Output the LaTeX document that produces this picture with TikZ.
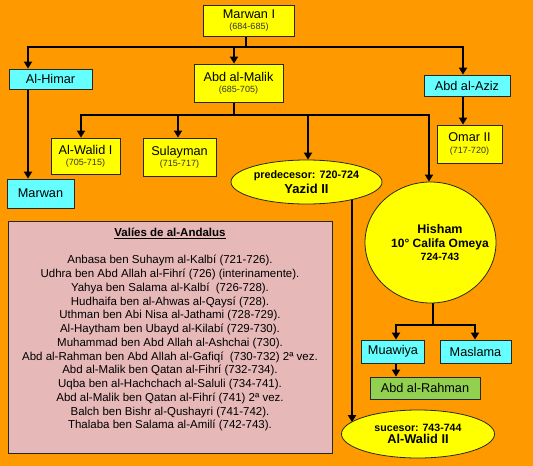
\documentclass[tikz,border=0pt]{standalone}
\usepackage{fontspec}
\setmainfont{Liberation Sans}
\usetikzlibrary{arrows.meta,shapes.geometric,backgrounds}
\definecolor{bgorange}{HTML}{FF9900}
\definecolor{boxyellow}{HTML}{FFFF00}
\definecolor{boxcyan}{HTML}{66FFFF}
\definecolor{boxgreen}{HTML}{92D050}
\definecolor{boxpink}{HTML}{E6B9B8}
\definecolor{yeargray}{HTML}{333333}
\newcommand\yrs[1]{{\fontsize{9}{10}\selectfont\color{yeargray}#1}}
\begin{document}
\begin{tikzpicture}[x=1pt,y=-1pt,
  base/.style={draw=black!85, line width=0.8pt, inner sep=0pt, align=center,
    font=\fontsize{12.7}{11.2}\selectfont},
  ybox/.style={base, rectangle, fill=boxyellow},
  cbox/.style={base, rectangle, fill=boxcyan},
  gbox/.style={base, rectangle, fill=boxgreen},
  oval/.style={base, ellipse, fill=boxyellow},
  conn/.style={line width=2.2pt, draw=black, line cap=rect},
  arr/.style={conn, -{Triangle[width=8pt,length=7pt]}},
]
\useasboundingbox (0,0) rectangle (533,466);

% nodes
\node[ybox, minimum width=91pt, minimum height=31pt] (marwanI) at (249,20.5) {Marwan I\\\yrs{(684-685)}};
\node[cbox, minimum width=83pt, minimum height=20pt] (alhimar) at (50.5,79) {Al-Himar};
\node[ybox, minimum width=89pt, minimum height=38pt] (abdmalik) at (238.5,83) {Abd al-Malik\\\yrs{(685-705)}};
\node[cbox, minimum width=86pt, minimum height=21pt] (abdaziz) at (467,85.5) {Abd al-Aziz};
\node[ybox, minimum width=69pt, minimum height=36pt] (walidI) at (85.5,156) {Al-Walid I\\\yrs{(705-715)}};
\node[ybox, minimum width=73pt, minimum height=38pt] (sulayman) at (179.5,157) {Sulayman\\\yrs{(715-717)}};
\node[ybox, minimum width=65pt, minimum height=38pt] (omarII) at (469.5,144) {Omar II\\\yrs{(717-720)}};
\node[cbox, minimum width=67pt, minimum height=29pt] (marwan) at (40.5,193.5) {Marwan};
\node[oval, minimum width=151pt, minimum height=44pt, font=\bfseries\fontsize{10.8}{14.8}\selectfont] (yazid) at (306.5,182)
  {predecesor: 720-724\\{\fontsize{13}{14.8}\selectfont Yazid II}};
\node[oval, minimum width=131pt, minimum height=121pt] (hisham) at (430.5,242.5) {};
\node[align=center, inner sep=0pt, font=\bfseries\fontsize{12}{13.6}\selectfont] (hishamtxt) at (440,242.5)
  {{\fontsize{12.5}{13.6}\selectfont Hisham}\\10° Califa Omeya\\[-1pt]{\fontsize{10.5}{12}\selectfont 724-743}};
\node[cbox, minimum width=63pt, minimum height=23pt] (muawiya) at (393,351.5) {Muawiya};
\node[cbox, minimum width=71pt, minimum height=23pt] (maslama) at (475.5,351.5) {Maslama};
\node[gbox, minimum width=110pt, minimum height=22pt] (abdrahman) at (425,388) {Abd al-Rahman};
\node[oval, minimum width=153pt, minimum height=48pt, font=\bfseries\fontsize{10.6}{12}\selectfont] (walidII) at (418,434)
  {sucesor: 743-744\\{\fontsize{12.8}{12}\selectfont Al-Walid II}};
\node[base, rectangle, fill=boxpink, minimum width=324pt, minimum height=232pt] (valies) at (170,337) {};
\node[align=center, inner sep=0pt, font=\fontsize{11.5}{13.75}\selectfont] (valiestext) at (170,329.5)
  {\textbf{\underline{Valíes de al-Andalus}}\\[13.75pt]
   Anbasa ben Suhaym al-Kalbí (721-726).\\
   Udhra ben Abd Allah al-Fihrí (726) (interinamente).\\
   Yahya ben Salama al-Kalbí \ (726-728).\\
   Hudhaifa ben al-Ahwas al-Qaysí (728).\\
   Uthman ben Abi Nisa al-Jathami (728-729).\\
   Al-Haytham ben Ubayd al-Kilabí (729-730).\\
   Muhammad ben Abd Allah al-Ashchai (730).\\
   Abd al-Rahman ben Abd Allah al-Gafiqí \ (730-732) 2ª vez.\\
   Abd al-Malik ben Qatan al-Fihrí (732-734).\\
   Uqba ben al-Hachchach al-Saluli (734-741).\\
   Abd al-Malik ben Qatan al-Fihrí (741) 2ª vez.\\
   Balch ben Bishr al-Qushayri (741-742).\\
   Thalaba ben Salama al-Amilí (742-743).};

% connector coordinates
\coordinate (j1) at (246,47);
\coordinate (j1L) at (28,47);
\coordinate (j1M) at (234,47);
\coordinate (j1R) at (463,47);
\coordinate (j2) at (234,115);
\coordinate (j2a) at (81,115);
\coordinate (j2b) at (178,115);
\coordinate (j2c) at (308,115);
\coordinate (j2d) at (429,115);
\coordinate (xw) at (352,0);
\coordinate (j3) at (433,325);
\coordinate (j3L) at (396,325);
\coordinate (j3R) at (475,325);

\begin{scope}[on background layer]
\fill[bgorange] (0,0) rectangle (533,466);
\draw[conn] (marwanI.center -| j1) -- (j1);
\draw[conn] (j1L) -- (j1R);
\draw[arr] (j1L) -- (j1L |- alhimar.north);
\draw[arr] (j1M) -- (j1M |- abdmalik.north);
\draw[arr] (j1R) -- (j1R |- abdaziz.north);
\draw[arr] (j1L |- alhimar.center) -- (j1L |- marwan.north);
\draw[arr] (j1R |- abdaziz.center) -- (j1R |- omarII.north);
\draw[conn] (abdmalik.center -| j2) -- (j2);
\draw[conn] (j2a) -- (j2d);
\draw[arr] (j2a) -- (j2a |- walidI.north);
\draw[arr] (j2b) -- (j2b |- sulayman.north);
\draw[arr] (j2c) -- (j2c |- yazid.north);
\draw[arr] (j2d) -- (j2d |- hisham.north);
\draw[arr] (yazid.center -| xw) -- (xw |- walidII.170);
\draw[conn] (hisham.center -| j3) -- (j3);
\draw[conn] (j3L) -- (j3R);
\draw[arr] (j3L) -- (j3L |- muawiya.north);
\draw[arr] (j3R) -- (j3R |- maslama.north);
\draw[arr] (muawiya.center -| j3L) -- (j3L |- abdrahman.north);
\end{scope}
\end{tikzpicture}
\end{document}
